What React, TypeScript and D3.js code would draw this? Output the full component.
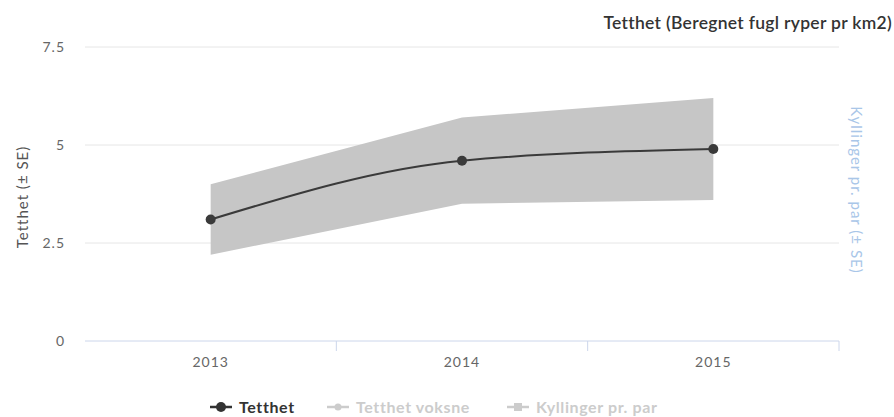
import React from "react";
import * as d3 from "d3";

const categories = ["2013", "2014", "2015"];
const tetthet = [3.1, 4.6, 4.9];
const tetthetLow = [2.2, 3.5, 3.6];
const tetthetHigh = [4.0, 5.7, 6.2];
const yTicks = [0, 2.5, 5, 7.5];
const legendItems = ["Tetthet", "Tetthet voksne", "Kyllinger pr. par"];

const W = 894;
const H = 417;
const plot = { left: 85, right: 839, top: 47, bottom: 341 };
const FONT = "Lato, 'Open Sans', sans-serif";

export default function App() {
  const x = d3
    .scaleBand<string>()
    .domain(categories)
    .range([plot.left, plot.right]);
  const cx = (c: string) => (x(c) as number) + x.bandwidth() / 2;
  const y = d3.scaleLinear().domain([0, 7.5]).range([plot.bottom, plot.top]);

  const pts = categories.map((c, i) => ({ c, v: tetthet[i], lo: tetthetLow[i], hi: tetthetHigh[i] }));

  const area = d3
    .area<(typeof pts)[number]>()
    .x((d) => cx(d.c))
    .y0((d) => y(d.lo))
    .y1((d) => y(d.hi));
  const line = d3
    .line<(typeof pts)[number]>()
    .x((d) => cx(d.c))
    .y((d) => y(d.v))
    .curve(d3.curveMonotoneX);

  const boundaries = categories.map((c) => (x(c) as number) + x.bandwidth());

  const legendX = [210, 327, 507];
  const legendColors = ["#333333", "#cccccc", "#cccccc"];

  return (
    <svg width={W} height={H} style={{ position: "absolute", left: 0, top: 0, fontFamily: FONT }}>
      <rect width={W} height={H} fill="#ffffff" />
      {yTicks.map((t) => (
        <g key={t}>
          {t !== 0 && (
            <line x1={plot.left} x2={plot.right} y1={y(t)} y2={y(t)} stroke="#e6e6e6" strokeWidth={1} />
          )}
          <text x={65} y={y(t) + 5} textAnchor="end" fontSize={14} letterSpacing={1} fill="#666666">
            {t}
          </text>
        </g>
      ))}
      <line x1={plot.left} x2={plot.right} y1={plot.bottom} y2={plot.bottom} stroke="#ccd6eb" strokeWidth={1} />
      {boundaries.map((b, i) => (
        <line key={i} x1={b} x2={b} y1={plot.bottom} y2={plot.bottom + 10} stroke="#ccd6eb" strokeWidth={1} />
      ))}
      {categories.map((c) => (
        <text key={c} x={cx(c)} y={367} textAnchor="middle" fontSize={14} letterSpacing={1} fill="#666666">
          {c}
        </text>
      ))}
      <path d={area(pts) as string} fill="#c6c6c6" />
      <path d={line(pts) as string} fill="none" stroke="#3a3a3a" strokeWidth={2} />
      {pts.map((p) => (
        <circle key={p.c} cx={cx(p.c)} cy={y(p.v)} r={5} fill="#3a3a3a" />
      ))}
      <text x={892} y={29} textAnchor="end" fontSize={17.5} fontWeight={600} letterSpacing={0.3} fill="#333333">
        Tetthet (Beregnet fugl ryper pr km2)
      </text>
      <text
        transform={`translate(28, 197) rotate(-90)`}
        textAnchor="middle"
        fontSize={15}
        letterSpacing={1}
        fill="#555555"
      >
        Tetthet (± SE)
      </text>
      <text
        transform={`translate(851, 190) rotate(90)`}
        textAnchor="middle"
        fontSize={15}
        letterSpacing={1}
        fill="#a9c6e8"
      >
        Kyllinger pr. par (± SE)
      </text>
      {legendItems.map((name, i) => {
        const lx = legendX[i];
        const ly = 407;
        const col = legendColors[i];
        return (
          <g key={name}>
            <line x1={lx} x2={lx + 22} y1={ly} y2={ly} stroke={col} strokeWidth={2.5} />
            {i === 2 ? (
              <rect x={lx + 7} y={ly - 4} width={8} height={8} fill={col} />
            ) : (
              <circle cx={lx + 11} cy={ly} r={i === 0 ? 5 : 3.5} fill={col} />
            )}
            <text x={lx + 29} y={ly + 5.5} fontSize={16} fontWeight={700} letterSpacing={0.6} fill={col}>
              {name}
            </text>
          </g>
        );
      })}
    </svg>
  );
}
